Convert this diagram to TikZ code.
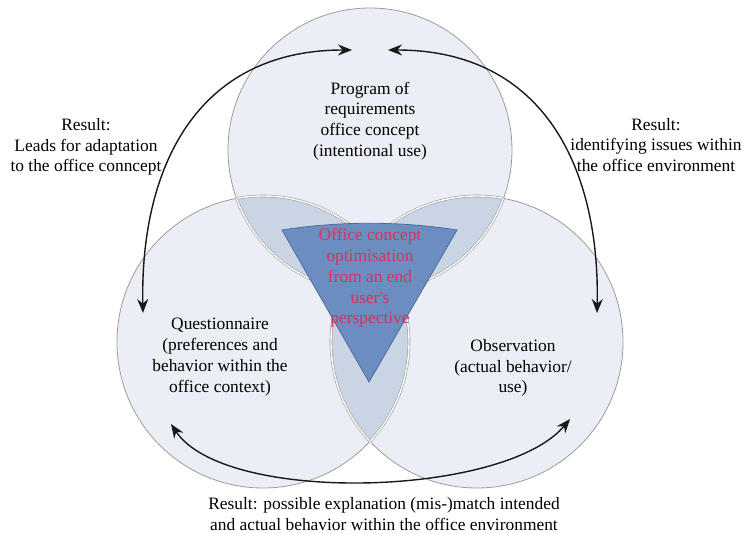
\documentclass[tikz,border=0pt]{standalone}
\usepackage{fontspec}
\setmainfont{Liberation Serif}
\usetikzlibrary{arrows.meta}

\definecolor{ringfill}{HTML}{EBEEF4}
\definecolor{ringline}{HTML}{9C9C9C}
\definecolor{lensfill}{HTML}{C9D4E5}
\definecolor{corefill}{HTML}{6B8DBF}
\definecolor{coreline}{HTML}{4D6D9E}
\definecolor{coretext}{HTML}{D8325E}

\begin{document}
\begin{tikzpicture}[
  x=1pt, y=-1pt,
  font=\fontsize{17.4}{20.8}\selectfont,
  ring/.style={draw=ringline, line width=0.8pt},
  lensedge/.style={draw=ringline, line width=0.6pt, double=white, double distance=1.4pt},
  txt/.style={align=center, inner sep=0pt},
  result/.style={{Stealth[length=14pt,width=11pt]}-{Stealth[length=14pt,width=11pt]}, line width=1.4pt, black!90},
  ]
  \useasboundingbox (0,0) rectangle (745,534);

  \coordinate (top) at (370,150);
  \coordinate (left) at (263,342);
  \coordinate (right) at (477,342);

  % the three circles
  \fill[ringfill] (top) circle (142pt) (left) circle (146pt) (right) circle (146pt);
  \draw[ring] (top) circle (142pt) (left) circle (146pt) (right) circle (146pt);

  % overlaps
  \begin{scope}
    \clip (top) circle (142pt);
    \fill[lensfill] (left) circle (146pt) (right) circle (146pt);
  \end{scope}
  \begin{scope}
    \clip (left) circle (146pt);
    \fill[lensfill] (right) circle (146pt);
  \end{scope}
  \foreach \a/\ra/\b/\rb in {top/142pt/left/146pt, top/142pt/right/146pt, left/146pt/right/146pt} {
    \begin{scope}
      \clip (\a) circle (\ra);
      \draw[lensedge] (\b) circle (\rb);
    \end{scope}
    \begin{scope}
      \clip (\b) circle (\rb);
      \draw[lensedge] (\a) circle (\ra);
    \end{scope}
  }

  % centre
  \filldraw[fill=corefill, draw=coreline, line width=0.8pt]
    (282,230) .. controls (340,221) and (399,221) .. (457,230) -- (369,382) -- cycle;

  \node[txt, text=coretext] (core) at (370,278)
    {Office concept\\optimisation\\from an end\\user\textquotesingle s\\perspective};

  \node[txt] (prog) at (370,121)
    {Program of\\requirements\\office concept\\(intentional use)};
  \node[txt] (quest) at (220,357)
    {Questionnaire\\(preferences and\\behavior within the\\office context)};
  \node[txt] (obs) at (513,368)
    {Observation\\(actual behavior/\\use)};

  \node[txt] (lres) at (86,147)
    {Result:\\Leads for adaptation\\to the office conncept};
  \node[txt] (rres) at (656,145)
    {Result:\\identifying issues within\\the office environment};
  \node[txt] (bres) at (384,514)
    {Result: possible explanation (mis-)match intended\\and actual behavior within the office environment};

  \coordinate (ltop) at (352,50);
  \coordinate (lbot) at (143,313);
  \coordinate (rtop) at (388,50);
  \coordinate (rbot) at (597,313);
  \coordinate (bl) at (171,424);
  \coordinate (br) at (570,419);

  \draw[result] (lbot) .. controls (140,170) and (195,50) .. (ltop);
  \draw[result] (rbot) .. controls (600,170) and (545,50) .. (rtop);
  \draw[result] (bl) .. controls (225,505) and (505,497) .. (br);
\end{tikzpicture}
\end{document}
